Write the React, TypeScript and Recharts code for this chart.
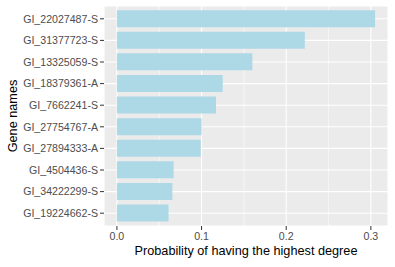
import React from 'react';
import { BarChart, Bar, XAxis, YAxis, CartesianGrid } from 'recharts';

const geneNames = [
  'GI_22027487-S',
  'GI_31377723-S',
  'GI_13325059-S',
  'GI_18379361-A',
  'GI_7662241-S',
  'GI_27754767-A',
  'GI_27894333-A',
  'GI_4504436-S',
  'GI_34222299-S',
  'GI_19224662-S',
];
const probabilities = [0.305, 0.222, 0.16, 0.125, 0.117, 0.1, 0.099, 0.067, 0.0655, 0.061];
const xTicks = [0, 0.1, 0.2, 0.3];
const xMinorTicks = [0.05, 0.15, 0.25];

const data = geneNames.map((name, i) => ({ name, prob: probabilities[i] }));

// ggplot style 5% expansion around [0, max]
const maxProb = Math.max(...probabilities);
const pad = maxProb * 0.05;

const FONT = '"Liberation Sans", Arial, sans-serif';

export default function App() {
  return (
    <div style={{ position: 'absolute', left: 0, top: 0, width: 395, height: 267, background: '#fff' }}>
      <BarChart
        width={395}
        height={267}
        data={data}
        layout="vertical"
        barCategoryGap="10%"
        margin={{ top: 6, right: 7, bottom: 0, left: 0 }}
        style={{ fontFamily: FONT }}
      >
        {/* panel background + major grid */}
        <CartesianGrid fill="#EBEBEB" stroke="#FFFFFF" strokeWidth={1.1} />
        {/* minor grid */}
        <CartesianGrid
          horizontal={false}
          verticalValues={xMinorTicks}
          stroke="#FFFFFF"
          strokeWidth={0.55}
        />
        <XAxis
          type="number"
          dataKey="prob"
          domain={[-pad, maxProb + pad]}
          ticks={xTicks}
          interval={0}
          tickFormatter={(v: number) => v.toFixed(1)}
          axisLine={false}
          tickLine={{ stroke: '#333333' }}
          tickSize={4}
          tick={{ fill: '#4D4D4D', fontSize: 10.6, fontFamily: FONT }}
          height={41}
          label={{
            value: 'Probability of having the highest degree',
            position: 'insideBottom',
            offset: 12,
            fill: '#000000',
            fontSize: 12.7,
            fontFamily: FONT,
          }}
        />
        <YAxis
          type="category"
          dataKey="name"
          width={104}
          interval={0}
          padding={{ top: 2, bottom: 2 }}
          axisLine={false}
          tickLine={{ stroke: '#333333' }}
          tickSize={4}
          tick={{ fill: '#4D4D4D', fontSize: 10.6, fontFamily: FONT }}
          label={{
            value: 'Gene names',
            angle: -90,
            position: 'insideLeft',
            offset: 12,
            fill: '#000000',
            fontSize: 12.7,
            fontFamily: FONT,
            style: { textAnchor: 'middle' },
          }}
        />
        <Bar dataKey="prob" fill="#ADD8E6" isAnimationActive={false} />
      </BarChart>
    </div>
  );
}
